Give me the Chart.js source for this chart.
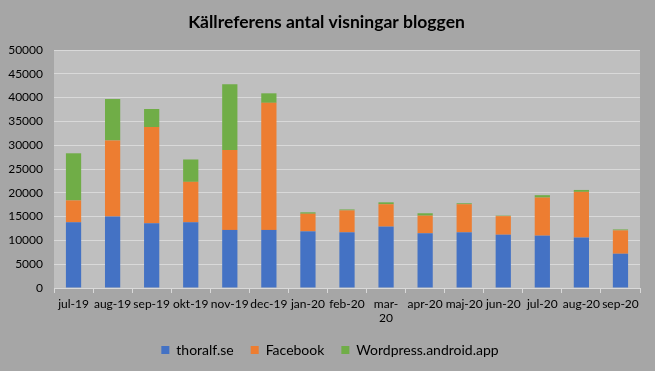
<!DOCTYPE html>
<html>
<head>
<meta charset="utf-8">
<script src="https://cdn.jsdelivr.net/npm/chart.js@4/dist/chart.umd.min.js"></script>
<style>
html,body{margin:0;padding:0;background:#a6a6a6;}
#wrap{width:655px;height:371px;}
</style>
</head>
<body>
<div id="wrap"><canvas id="c" width="655" height="371"></canvas></div>
<script>
const categories = ['jul-19','aug-19','sep-19','okt-19','nov-19','dec-19','jan-20','feb-20','mar-20','apr-20','maj-20','jun-20','jul-20','aug-20','sep-20'];
const thoralf   = [13800,15000,13600,13800,12200,12200,11900,11700,12900,11500,11700,11200,11000,10600,7200];
const facebook  = [4600,16000,20200,8500,16800,26700,3700,4600,4700,3700,5900,3900,8000,9600,4900];
const wordpress = [9900,8700,3800,4700,13800,2000,300,200,400,500,200,100,500,400,200];
const seriesNames = ['thoralf.se','Facebook','Wordpress.android.app'];
const yTicks = [0,5000,10000,15000,20000,25000,30000,35000,40000,45000,50000];

const FONT = 'Lato, "Open Sans", sans-serif';

const bgPlugin = {
  id:'bg',
  afterLayout(chart){
    if (chart.legend) { chart.legend.left += 20; }
    if (chart.titleBlock) { chart.titleBlock.left += 13; }
  },
  beforeDraw(chart){
    const {ctx, chartArea:a} = chart;
    ctx.save();
    ctx.fillStyle = '#a6a6a6';
    ctx.fillRect(0,0,chart.width,chart.height);
    ctx.fillStyle = '#bfbfbf';
    ctx.fillRect(a.left,a.top,a.right-a.left,a.bottom-a.top);
    ctx.restore();
  }
};

new Chart(document.getElementById('c'), {
  type:'bar',
  data:{
    labels:categories,
    datasets:[
      {label:seriesNames[0], data:thoralf, backgroundColor:'#4472c4'},
      {label:seriesNames[1], data:facebook, backgroundColor:'#ed7d31'},
      {label:seriesNames[2], data:wordpress, backgroundColor:'#70ad47'}
    ]
  },
  options:{
    responsive:false,
    animation:false,
    devicePixelRatio:1,
    layout:{padding:{left:0,right:15,top:0,bottom:4}},
    datasets:{bar:{barPercentage:0.39,categoryPercentage:1}},
    plugins:{
      title:{display:true,text:'Källreferens antal visningar bloggen',color:'#000',
        font:{family:FONT,size:17.5,weight:'bold'},padding:{top:12,bottom:17}},
      legend:{position:'bottom',
        labels:{boxWidth:8,boxHeight:8,color:'#000',padding:17,font:{family:FONT,size:14}}},
      tooltip:{enabled:false}
    },
    scales:{
      x:{stacked:true,
        grid:{display:true,drawOnChartArea:false,drawTicks:true,tickLength:5,color:'#d9d9d9',offset:true},
        border:{display:true,color:'#d9d9d9'},
        ticks:{autoSkip:false,maxRotation:0,minRotation:0,color:'#000',padding:4,
          font:{family:FONT,size:12},
          callback:function(v,i){const l=categories[i]; return l==='mar-20'?['mar-','20']:l;}},
        afterFit(s){s.height=38;}
      },
      y:{stacked:true,min:0,max:50000,
        afterBuildTicks(s){s.ticks=yTicks.map(v=>({value:v}));},
        grid:{color:'#d9d9d9',drawTicks:false},
        border:{display:false},
        ticks:{color:'#000',padding:11,font:{family:FONT,size:12},callback:v=>String(v)},
        afterFit(s){s.width=54;}
      }
    }
  },
  plugins:[bgPlugin]
});
</script>
</body>
</html>
